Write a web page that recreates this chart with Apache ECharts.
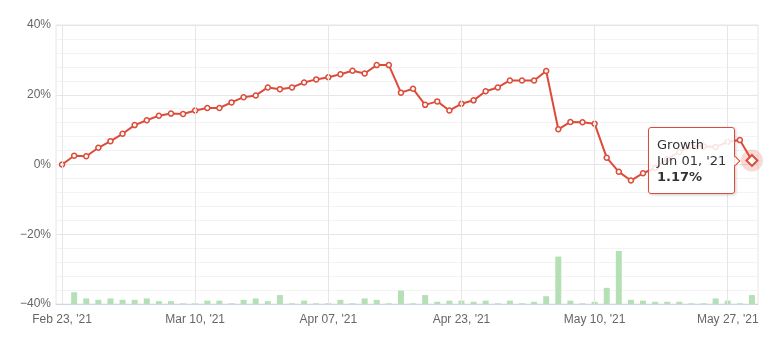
<!DOCTYPE html>
<html>
<head>
<meta charset="utf-8">
<script src="https://cdn.jsdelivr.net/npm/echarts@6/dist/echarts.min.js"></script>
<style>
html,body{margin:0;padding:0;background:#fff;}
#chart{width:770px;height:341px;}
</style>
</head>
<body>
<div id="chart"></div>
<script>
const dates = [
  "Feb 23, '21","Feb 24, '21","Feb 25, '21","Feb 26, '21","Mar 01, '21","Mar 02, '21","Mar 03, '21","Mar 04, '21","Mar 05, '21","Mar 08, '21","Mar 09, '21",
  "Mar 10, '21","Mar 12, '21","Mar 15, '21","Mar 17, '21","Mar 19, '21","Mar 22, '21","Mar 24, '21","Mar 26, '21","Mar 29, '21","Mar 31, '21","Apr 05, '21",
  "Apr 07, '21","Apr 08, '21","Apr 09, '21","Apr 12, '21","Apr 13, '21","Apr 14, '21","Apr 15, '21","Apr 16, '21","Apr 19, '21","Apr 20, '21","Apr 22, '21",
  "Apr 23, '21","Apr 26, '21","Apr 27, '21","Apr 28, '21","Apr 29, '21","Apr 30, '21","May 03, '21","May 04, '21","May 05, '21","May 06, '21","May 07, '21",
  "May 10, '21","May 11, '21","May 12, '21","May 13, '21","May 14, '21","May 17, '21","May 18, '21","May 19, '21","May 20, '21","May 21, '21","May 25, '21",
  "May 27, '21","May 28, '21","Jun 01, '21"
];
const growth = [
  0.0, 2.5, 2.35, 4.8, 6.7, 8.8, 11.3, 12.7, 14.0, 14.6, 14.5,
  15.5, 16.2, 16.2, 17.8, 19.3, 19.8, 22.1, 21.6, 22.1, 23.5, 24.4,
  25.0, 25.9, 26.9, 26.1, 28.5, 28.5, 20.6, 21.7, 17.1, 18.1, 15.5,
  17.4, 18.4, 21.0, 22.1, 24.1, 24.1, 24.1, 26.8, 10.1, 12.2, 12.1,
  11.7, 1.95, -2.1, -4.6, -2.5, -1.0, 1.5, 3.6, 5.3, 5.2, 5.0,
  6.5, 7.0, 1.17
];
const volume = [
  0, 4.2, 2.0, 1.5, 2.0, 1.5, 1.5, 2.0, 1.0, 1.0, 0.25,
  0.25, 1.2, 1.2, 0.25, 1.5, 2.0, 1.0, 3.2, 0.25, 1.2, 0.25,
  0.25, 1.5, 0.25, 2.0, 1.5, 0.25, 4.8, 0.25, 3.2, 0.8, 1.2,
  1.2, 0.8, 1.2, 0.25, 1.2, 0.25, 0.8, 2.8, 17.0, 1.2, 0.25,
  0.8, 5.8, 19.0, 1.5, 1.2, 0.8, 0.8, 0.8, 0.25, 0.25, 2.0,
  1.2, 0.25, 3.2
];
const yTicks = [-40, -20, 0, 20, 40];
const seriesName = 'Growth';
const labelStep = 11;

const RED = '#dd4b39';
const FONT = 'Liberation Sans, Arial, sans-serif';
const last = dates.length - 1;

const lineData = growth.map((v, i) => i === last
  ? { value: v, symbol: 'diamond', symbolSize: 11, itemStyle: { borderWidth: 2 } }
  : v);

const gridDates = dates.filter((d, i) => i % labelStep === 0);

const chart = echarts.init(document.getElementById('chart'), null, { renderer: 'canvas' });
chart.setOption({
  animation: false,
  grid: { left: 56, right: 12, top: 25, bottom: 37, show: true, borderColor: '#e6e6e6', borderWidth: 1, backgroundColor: 'transparent' },
  tooltip: {
    trigger: 'item',
    triggerOn: 'none',
    alwaysShowContent: true,
    position: 'left',
    backgroundColor: 'rgba(255,255,255,0.85)',
    borderColor: RED,
    borderWidth: 1,
    borderRadius: 3,
    padding: [9, 8, 8, 8],
    textStyle: { color: '#333', fontFamily: 'DejaVu Sans, sans-serif', fontSize: 13, lineHeight: 16 },
    extraCssText: 'box-shadow: 1px 1px 3px rgba(0,0,0,0.2); line-height:16px;',
    formatter: p => p.seriesName + '<br/>' + p.name + '<br/><b>' + p.value + '%</b>'
  },
  xAxis: {
    type: 'category',
    data: dates,
    boundaryGap: true,
    axisLine: { show: true, onZero: false, lineStyle: { color: '#ccd6eb' } },
    axisTick: { show: false },
    splitLine: { show: false },
    axisLabel: { interval: labelStep - 1, color: '#666', fontSize: 12, fontFamily: FONT, margin: 10 }
  },
  yAxis: [{
    type: 'value',
    min: yTicks[0], max: yTicks[yTicks.length - 1], interval: 20,
    axisLine: { show: false },
    axisTick: { show: false },
    axisLabel: { formatter: v => String(v).replace('-', '\u2212') + '%', color: '#666', fontSize: 12, fontFamily: FONT, margin: 5 },
    splitLine: { show: true, lineStyle: { color: '#e6e6e6' } },
    minorTick: { show: false, splitNumber: 5 },
    minorSplitLine: { show: true, lineStyle: { color: '#f3f3f3' } }
  }, {
    type: 'value', min: 0, max: 100, show: false, splitLine: { show: false }
  }],
  series: [{
    name: 'Volume',
    type: 'bar',
    yAxisIndex: 1,
    data: volume,
    barWidth: 6,
    itemStyle: { color: '#b5e0b5' },
    silent: true,
    tooltip: { show: false },
    z: 1,
    markLine: {
      silent: true,
      symbol: 'none',
      label: { show: false },
      lineStyle: { color: '#e6e6e6', type: 'solid', width: 1 },
      emphasis: { disabled: true },
      data: gridDates.map(d => ({ xAxis: d }))
    }
  }, {
    name: 'Halo',
    type: 'scatter',
    data: [[dates[last], growth[last]]],
    symbolSize: 22,
    itemStyle: { color: 'rgba(221,75,57,0.25)' },
    silent: true,
    tooltip: { show: false },
    z: 2
  }, {
    name: seriesName,
    type: 'line',
    data: lineData,
    symbol: 'circle',
    symbolSize: 5,
    showAllSymbol: true,
    lineStyle: { color: RED, width: 2 },
    itemStyle: { color: '#fff', borderColor: RED, borderWidth: 1.5 },
    emphasis: { disabled: true },
    z: 3
  }]
});
chart.dispatchAction({ type: 'showTip', seriesIndex: 2, dataIndex: last });
</script>
</body>
</html>
